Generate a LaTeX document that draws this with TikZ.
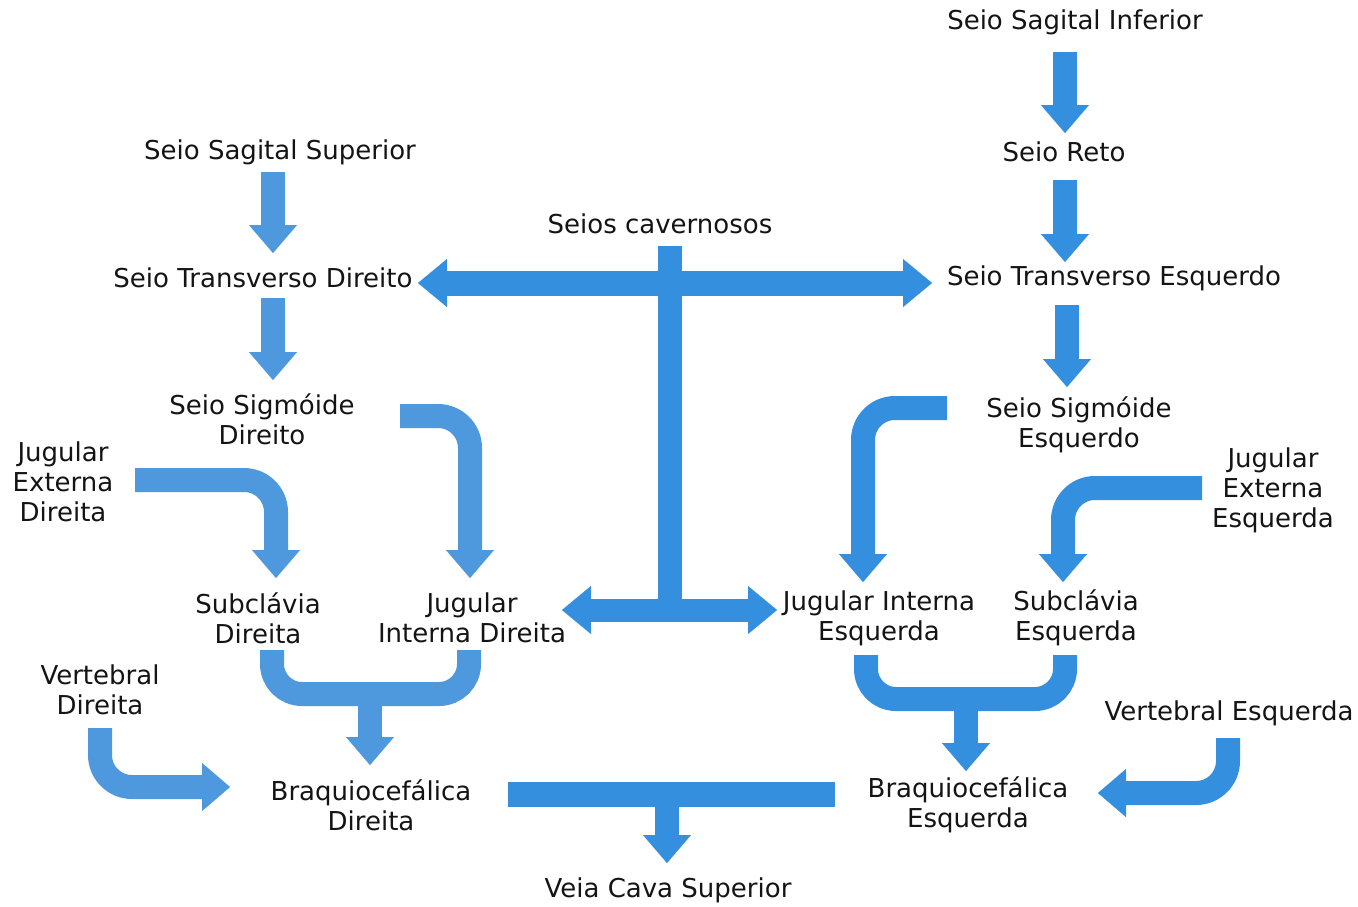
\documentclass[tikz,border=0pt]{standalone}
\usepackage{fontspec}
\setmainfont{DejaVu Sans}
\usetikzlibrary{arrows.meta}
\definecolor{vblue}{RGB}{52,143,223}
\definecolor{vblueL}{RGB}{78,152,222}
\definecolor{txt}{RGB}{20,20,20}
\begin{document}
\begin{tikzpicture}[x=1pt,y=-1pt,
  lbl/.style={font=\fontsize{26}{30}\selectfont, align=center, inner sep=0pt, text=txt},
  flow/.style={draw=#1, line width=24pt, line cap=butt, rounded corners=32pt,
    -{Triangle[width=48pt,length=28pt,line width=0.1pt]}},
  flow/.default=vblue,
  dflow/.style={draw=vblue, line width=25pt, line cap=butt,
    {Triangle[width=48pt,length=29pt,line width=0.1pt]}-{Triangle[width=48pt,length=29pt,line width=0.1pt]}},
  bar/.style={draw=#1, line width=24pt, line cap=butt, rounded corners=30pt},
  bar/.default=vblue
]
\fill[white] (0,0) rectangle (1358,906);
\useasboundingbox (0,0) rectangle (1358,906);

% ---------- labels ----------
\node[lbl] (ssi) at (1075,22) {Seio Sagital Inferior};
\node[lbl] (sss) at (280,152) {Seio Sagital Superior};
\node[lbl] (sr)  at (1064,152) {Seio Reto};
\node[lbl] (sc)  at (660,224) {Seios cavernosos};
\node[lbl] (std) at (263,278) {Seio Transverso Direito};
\node[lbl] (ste) at (1114,278) {Seio Transverso Esquerdo};
\node[lbl] (ssd) at (262,419) {Seio Sigmóide\\Direito};
\node[lbl] (sse) at (1079,425) {Seio Sigmóide\\Esquerdo};
\node[lbl] (jed) at (63,482) {Jugular\\Externa\\Direita};
\node[lbl] (jee) at (1273,490) {Jugular\\Externa\\Esquerda};
\node[lbl] (scd) at (258,618) {Subclávia\\Direita};
\node[lbl] (jid) at (472,618) {Jugular\\Interna Direita};
\node[lbl] (jie) at (879,618) {Jugular Interna\\Esquerda};
\node[lbl] (sce) at (1076,618) {Subclávia\\Esquerda};
\node[lbl] (vd)  at (100,690) {Vertebral\\Direita};
\node[lbl] (ve)  at (1229,713) {Vertebral Esquerda};
\node[lbl] (bd)  at (371,805) {Braquiocefálica\\Direita};
\node[lbl] (be)  at (968,805) {Braquiocefálica\\Esquerda};
\node[lbl] (vcs) at (668,890) {Veia Cava Superior};

% ---------- connector end points ----------
\coordinate (a1s) at (1065,52);  \coordinate (a1e) at (1065,133);
\coordinate (a2s) at (273,172);  \coordinate (a2e) at (273,253);
\coordinate (a3s) at (1065,180); \coordinate (a3e) at (1065,262);
\coordinate (a4s) at (273,298);  \coordinate (a4e) at (273,380);
\coordinate (a5s) at (1067,305); \coordinate (a5e) at (1067,387);

\coordinate (tl) at (418,283);   \coordinate (tr) at (932,283);
\coordinate (ttop) at (670,246); \coordinate (tbot) at (670,610);
\coordinate (bl) at (562,610);   \coordinate (br) at (777,610);

\coordinate (c1s) at (400,416);  \coordinate (c1k) at (470,416);  \coordinate (c1e) at (470,578);
\coordinate (c2s) at (135,480);  \coordinate (c2k) at (276,480);  \coordinate (c2e) at (276,578);
\coordinate (c3s) at (947,408);  \coordinate (c3k) at (863,408);  \coordinate (c3e) at (863,582);
\coordinate (c4s) at (1202,488); \coordinate (c4k) at (1063,488); \coordinate (c4e) at (1063,582);
\coordinate (c5s) at (100,728);  \coordinate (c5k) at (100,787);  \coordinate (c5e) at (230,787);
\coordinate (c6s) at (1228,738); \coordinate (c6k) at (1228,793); \coordinate (c6e) at (1098,793);

\coordinate (u1a) at (272,650);  \coordinate (u1b) at (469,650);  \coordinate (u1y) at (0,694);
\coordinate (u1m) at (370,694);  \coordinate (u1e) at (370,765);
\coordinate (u2a) at (866,655);  \coordinate (u2b) at (1065,655); \coordinate (u2y) at (0,699);
\coordinate (u2m) at (966,699);  \coordinate (u2e) at (966,771);

\coordinate (vl) at (508,794);   \coordinate (vr) at (835,794);
\coordinate (vm) at (667,794);   \coordinate (ve2) at (667,863);

% ---------- straight arrows ----------
\draw[flow] (a1s) -- (a1e);
\draw[flow=vblueL] (a2s) -- (a2e);
\draw[flow] (a3s) -- (a3e);
\draw[flow=vblueL] (a4s) -- (a4e);
\draw[flow] (a5s) -- (a5e);

% ---------- cavernous sinuses ----------
\draw[bar, rounded corners=0pt] (ttop) -- (tbot);
\draw[dflow] (tl) -- (tr);
\draw[dflow, line width=23pt] (bl) -- (br);

% ---------- bent arrows ----------
\draw[flow=vblueL] (c1s) -- (c1k) -- (c1e);
\draw[flow=vblueL] (c2s) -- (c2k) -- (c2e);
\draw[flow] (c3s) -- (c3k) -- (c3e);
\draw[flow] (c4s) -- (c4k) -- (c4e);
\draw[flow=vblueL] (c5s) -- (c5k) -- (c5e);
\draw[flow] (c6s) -- (c6k) -- (c6e);

% ---------- merging arrows ----------
\draw[bar=vblueL] (u1a) -- (u1a |- u1y) -- (u1b |- u1y) -- (u1b);
\draw[flow=vblueL, rounded corners=0pt] (u1m) -- (u1e);
\draw[bar] (u2a) -- (u2a |- u2y) -- (u2b |- u2y) -- (u2b);
\draw[flow, rounded corners=0pt] (u2m) -- (u2e);

% ---------- superior vena cava ----------
\draw[bar, rounded corners=0pt, line width=25pt] (vl) -- (vr);
\draw[flow, rounded corners=0pt] (vm) -- (ve2);
\end{tikzpicture}
\end{document}
